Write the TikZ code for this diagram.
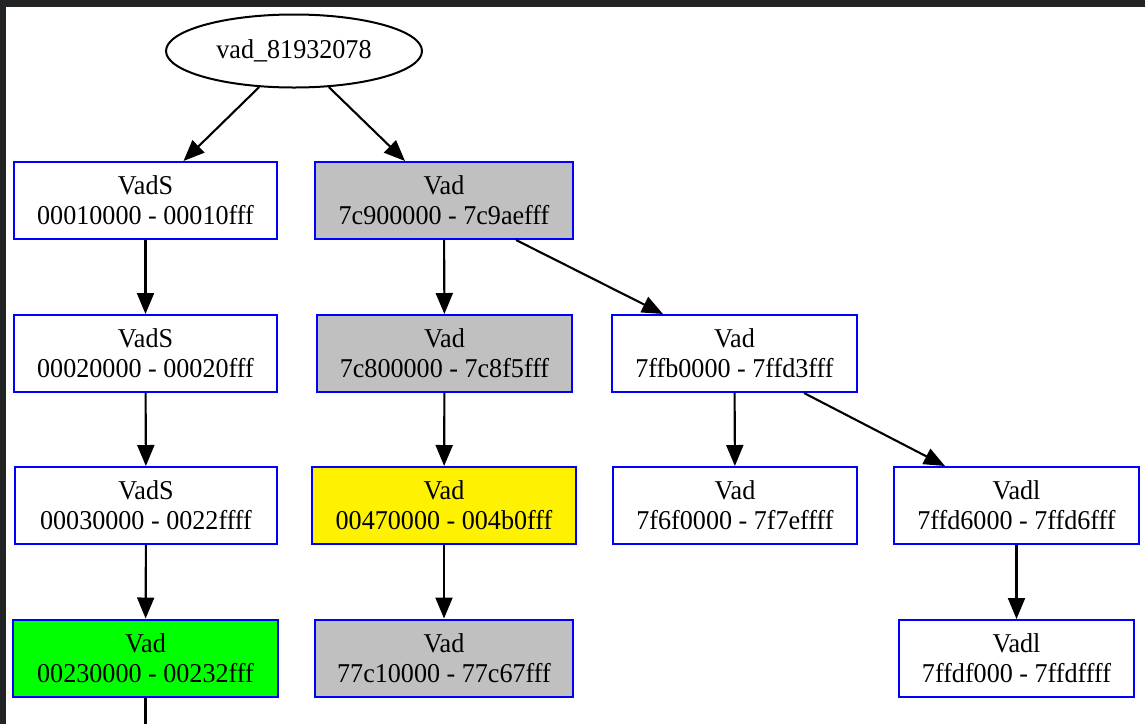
\documentclass[tikz,border=0pt]{standalone}
\usepackage{fontspec}
\setmainfont{Liberation Serif}[FakeStretch=0.96]
\usetikzlibrary{arrows.meta,shapes.geometric,calc}
\definecolor{framedark}{HTML}{212325}
\definecolor{vadgray}{HTML}{C0C0C0}
\begin{document}
\begin{tikzpicture}[x=1pt,y=-1pt,
  every node/.style={font=\fontsize{27.2}{30}\selectfont, align=center, inner sep=0pt, text=black},
  vadbox/.style={draw=blue, line width=2pt, rectangle, minimum height=77pt, fill=white},
  root/.style={draw=black, line width=2pt, ellipse, minimum width=256pt, minimum height=73pt},
  edge/.style={draw=black, line width=2.1pt, -{Triangle[length=21pt,width=17pt]}},
  plain/.style={draw=black, line width=2.1pt},
]
% page and window frame
\fill[white] (0,0) rectangle (1145,724);
\useasboundingbox (0,0) rectangle (1145,724);
\fill[framedark] (0,0) rectangle (1145,7);
\fill[framedark] (0,0) rectangle (6,724);

% root of the VAD tree
\node[root] (root) at (294,51) {vad\_81932078};

% first level
\node[vadbox, minimum width=263pt] (s1) at (145.5,200.5) {VadS\\00010000 - 00010fff};
\node[vadbox, minimum width=258pt, fill=vadgray] (g1) at (444,200.5) {Vad\\7c900000 - 7c9aefff};

% second level
\node[vadbox, minimum width=263pt] (s2) at (145.5,353.5) {VadS\\00020000 - 00020fff};
\node[vadbox, minimum width=255pt, fill=vadgray] (g2) at (444.5,353.5) {Vad\\7c800000 - 7c8f5fff};
\node[vadbox, minimum width=245pt] (b1) at (734.5,353.5) {Vad\\7ffb0000 - 7ffd3fff};

% third level
\node[vadbox, minimum width=262pt] (s3) at (146,505.5) {VadS\\00030000 - 0022ffff};
\node[vadbox, minimum width=264pt, fill=yellow] (y1) at (444,505.5) {Vad\\00470000 - 004b0fff};
\node[vadbox, minimum width=244pt] (b2) at (735,505.5) {Vad\\7f6f0000 - 7f7effff};
\node[vadbox, minimum width=245pt] (l1) at (1016.5,505.5) {Vadl\\7ffd6000 - 7ffd6fff};

% fourth level
\node[vadbox, minimum width=265pt, fill=green] (gr) at (145.5,658) {Vad\\00230000 - 00232fff};
\node[vadbox, minimum width=258pt, fill=vadgray] (g3) at (444,658) {Vad\\77c10000 - 77c67fff};
\node[vadbox, minimum width=235pt] (l2) at (1016.5,658.5) {Vadl\\7ffdf000 - 7ffdffff};

\coordinate (below) at (145.5,724);

% connectors
\draw[edge] (root.226) -- ($(s1.north)+(38,0)$);
\draw[edge] (root.314) -- ($(g1.north)+(-39,0)$);
\draw[edge] (s1) -- (s2);
\draw[edge] (g1) -- (g2);
\draw[edge] ($(g1.south)+(72,0)$) -- ($(b1.north)+(-71.5,0)$);
\draw[edge] (s2) -- (s3);
\draw[edge] (g2) -- (y1);
\draw[edge] (b1) -- (b2);
\draw[edge] ($(b1.south)+(69.5,0)$) -- ($(l1.north)+(-71.5,0)$);
\draw[edge] (s3) -- (gr);
\draw[edge] (y1) -- (g3);
\draw[edge] (l1) -- (l2);
\draw[plain] (gr.south) -- (below);
\end{tikzpicture}
\end{document}
